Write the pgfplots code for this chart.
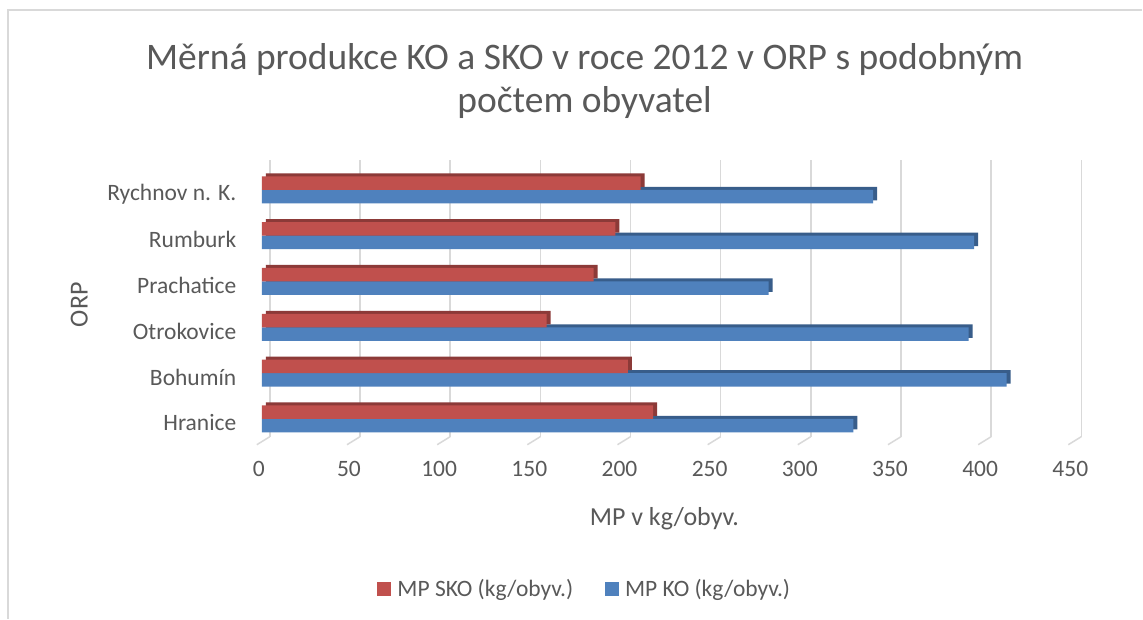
\documentclass[border=0pt]{standalone}
\usepackage{fontspec}
\setmainfont{Carlito}
\usepackage{pgfplots}
\usepackage{pgfplotstable}
\pgfplotsset{compat=1.18}
\definecolor{skored}{HTML}{C0504D}
\definecolor{skodark}{HTML}{8C3A38}
\definecolor{koblue}{HTML}{4F81BD}
\definecolor{kodark}{HTML}{385D8A}
\definecolor{txt}{HTML}{595959}
\definecolor{gridc}{HTML}{D9D9D9}

\pgfplotstableread{
idx SKO KO
0 217 328
1 203 413
2 158 392
3 184 281
4 196 395
5 210 339
}\data

\begin{document}
\begin{tikzpicture}[x=1pt,y=1pt]
\path[fill=white] (0pt,0pt) rectangle (1143pt,619pt);
\draw[gridc, line width=1.5pt] (8pt,0pt) -- (8pt,609pt) -- (1143pt,609pt);
\node[text=txt, font=\fontsize{37.5}{43}\selectfont, align=center] at (585pt,538pt)
  {Měrná produkce KO a SKO v roce 2012 v ORP s podobným\\počtem obyvatel};
\begin{axis}[
  at={(262pt,182pt)}, anchor=south west, scale only axis,
  width=812pt, height=277pt,
  xmin=0, xmax=450, ymin=-0.39, ymax=5.655,
  xbar, bar width=13.5pt,
  xtick={0,50,...,450}, ytick={0,...,5},
  yticklabels={Hranice,Bohumín,Otrokovice,Prachatice,Rumburk,Rychnov n. K.},
  axis line style={draw=none}, major tick length=0pt,
  xmajorgrids, x grid style={gridc, line width=1.5pt, xshift=8pt},
  ticklabel style={font=\fontsize{23.5}{28}\selectfont, text=txt},
  /pgf/number format/assume math mode=true,
  xticklabel style={yshift=-21pt, xshift=-3pt},
  yticklabel style={xshift=-22pt, yshift=-4pt},
  xlabel={MP v kg/obyv.},
  xlabel style={at={(axis description cs:0.496,0)}, anchor=center, yshift=-82pt, font=\fontsize{26}{30}\selectfont, text=txt},
  ylabel={ORP},
  ylabel style={at={(axis description cs:-0.225,0.477)}, anchor=center, font=\fontsize{26}{30}\selectfont, text=txt},
  legend style={at={(0.398,-0.549)}, anchor=center, legend columns=2, draw=none,
    font=\fontsize{23.5}{28}\selectfont, text=txt,
    /tikz/every even column/.append style={column sep=30pt}},
  legend image code/.code={\path[#1,draw=none] (0pt,-7pt) rectangle (14pt,7pt);},
  reverse legend,
  clip=false,
]
\pgfplotsinvokeforeach{0,50,...,450}{
  \draw[gridc, line width=1.5pt] ([xshift=8pt]axis cs:#1,-0.39) -- ([xshift=-5pt,yshift=-8pt]axis cs:#1,-0.39);
}
\addplot[fill=kodark, draw=none, bar shift=-6.75pt, forget plot, xshift=4pt, yshift=3pt] table[x=KO,y=idx]{\data};
\addplot[fill=koblue, draw=none, bar shift=-6.75pt] table[x=KO,y=idx]{\data};
\addplot[fill=skodark, draw=none, bar shift=6.75pt, forget plot, xshift=4pt, yshift=3pt] table[x=SKO,y=idx]{\data};
\addplot[fill=skored, draw=none, bar shift=6.75pt] table[x=SKO,y=idx]{\data};
\addlegendentry{\hspace{4pt}MP KO (kg/obyv.)}
\addlegendentry{\hspace{4pt}MP SKO (kg/obyv.)}
\end{axis}
\end{tikzpicture}
\end{document}
